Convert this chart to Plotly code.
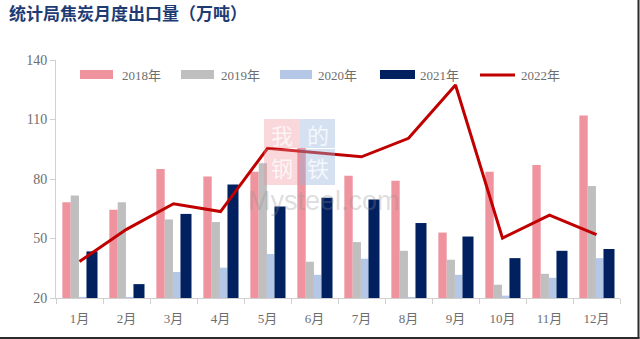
import plotly.graph_objects as go

# Monthly coke exports reported by the statistics bureau (10k tonnes)
months = ["1月", "2月", "3月", "4月", "5月", "6月", "7月", "8月", "9月", "10月", "11月", "12月"]
y2018 = [68.3, 64.5, 85.1, 81.2, 83.6, 95.6, 81.7, 79.1, 53.0, 83.6, 87.1, 112.0]
y2019 = [71.7, 68.3, 59.6, 58.3, 88.0, 38.3, 48.2, 43.8, 39.3, 26.7, 32.2, 76.5]
y2020 = [20.5, 20.3, 33.1, 35.3, 42.2, 31.7, 39.8, 20.3, 31.7, 21.2, 30.2, 40.1]
y2021 = [43.5, 27.0, 62.4, 77.2, 66.1, 70.5, 69.7, 57.8, 51.0, 40.1, 43.8, 44.7]
y2022 = [38.4, 54.6, 67.5, 63.6, 95.5, 93.3, 91.2, 100.5, 127.4, 50.2, 61.8, 51.9]

C18, C19, C20, C21, C22 = "#EF949E", "#BFBFBF", "#B4C7E7", "#002060", "#C00000"

W, H = 640, 339
ML, MR, MT, MB = 56, 20, 60, 41
PW, PH = W - ML - MR, H - MT - MB


def px(x):
    return (x - ML) / PW


def py(y):
    return (H - MB - y) / PH


fig = go.Figure()
bar_specs = [
    ("2018年", y2018, C18, -0.365, 0.178),
    ("2019年", y2019, C19, -0.187, 0.175),
    ("2020年", y2020, C20, -0.012, 0.16),
    ("2021年", y2021, C21, 0.148, 0.235),
]
for name, vals, col, off, wd in bar_specs:
    fig.add_trace(go.Bar(
        x=months, y=[v - 20 for v in vals], base=20, name=name,
        marker=dict(color=col, line=dict(width=0)),
        offset=off, width=wd, showlegend=False,
    ))
fig.add_trace(go.Scatter(
    x=months, y=y2022, name="2022年", mode="lines",
    line=dict(color=C22, width=3), showlegend=False,
))

shapes = []
annotations = []
serif = "Liberation Serif, Noto Sans CJK SC"

# legend drawn by hand so the swatches keep their wide shape
legend_items = [
    ("2018年", C18, 80, 113, 120, "bar"),
    ("2019年", C19, 181, 214, 219, "bar"),
    ("2020年", C20, 280, 312, 316, "bar"),
    ("2021年", C21, 380, 415, 418, "bar"),
    ("2022年", C22, 480, 515, 519, "line"),
]
for name, col, x0, x1, tx, kind in legend_items:
    if kind == "bar":
        shapes.append(dict(type="rect", xref="paper", yref="paper",
                           x0=px(x0), x1=px(x1), y0=py(79), y1=py(70),
                           fillcolor=col, line=dict(width=0)))
    else:
        shapes.append(dict(type="line", xref="paper", yref="paper",
                           x0=px(x0), x1=px(x1), y0=py(75), y1=py(75),
                           line=dict(color=col, width=3)))
    annotations.append(dict(text=name, xref="paper", yref="paper",
                            x=px(tx), y=py(75), xanchor="left", yanchor="middle",
                            showarrow=False,
                            font=dict(family=serif, size=13, color="#6E6E6E")))

# faint site watermark
wm = [("我", 264, 300, 119, 148, "rgba(239,140,150,0.35)"),
      ("的", 300, 335, 119, 148, "rgba(150,180,220,0.4)"),
      ("钢", 264, 300, 149, 185, "rgba(239,140,150,0.35)"),
      ("铁", 300, 335, 149, 185, "rgba(150,180,220,0.4)")]
for ch, x0, x1, y0, y1, col in wm:
    shapes.append(dict(type="rect", xref="paper", yref="paper", layer="above",
                       x0=px(x0), x1=px(x1), y0=py(y1), y1=py(y0),
                       fillcolor=col, line=dict(width=0)))
    annotations.append(dict(text=ch, xref="paper", yref="paper",
                            x=px((x0 + x1) / 2), y=py((y0 + y1) / 2),
                            xanchor="center", yanchor="middle", showarrow=False,
                            font=dict(family="Noto Sans CJK SC", size=22,
                                      color="rgba(255,255,255,0.75)")))
annotations.append(dict(text="Mysteel.com", xref="paper", yref="paper",
                        x=px(324), y=py(201), xanchor="center", yanchor="middle",
                        showarrow=False,
                        font=dict(family="Liberation Sans", size=27,
                                  color="rgba(140,140,140,0.3)")))

# title
annotations.append(dict(text="<b>统计局焦炭月度出口量（万吨）</b>", xref="paper", yref="paper",
                        x=px(7), y=py(12), xanchor="left", yanchor="middle",
                        showarrow=False,
                        font=dict(family="Noto Sans CJK SC", size=17, color="#1F3B73")))

# dark frame on the right and bottom edges
shapes.append(dict(type="line", xref="paper", yref="paper",
                   x0=px(638.5), x1=px(638.5), y0=py(0), y1=py(338.5),
                   line=dict(color="#2b2b2b", width=2)))
shapes.append(dict(type="line", xref="paper", yref="paper",
                   x0=px(0), x1=px(639.5), y0=py(338), y1=py(338),
                   line=dict(color="#2b2b2b", width=2)))

fig.update_layout(
    width=W, height=H,
    margin=dict(l=ML, r=MR, t=MT, b=MB),
    paper_bgcolor="white", plot_bgcolor="white",
    barmode="overlay",
    shapes=shapes, annotations=annotations,
    showlegend=False,
)
fig.update_xaxes(
    type="category", showgrid=False, showline=True, linecolor="#D0D0D0", linewidth=1,
    ticks="outside", tickson="boundaries", ticklen=5, tickcolor="#D0D0D0",
    tickfont=dict(family=serif, size=13, color="#6E6E6E"),
    ticklabelstandoff=8,
    range=[-0.5, 11.5],
)
fig.update_yaxes(
    range=[20, 140], tickvals=[20, 50, 80, 110, 140], showgrid=False,
    showline=True, linecolor="#D0D0D0", linewidth=1,
    ticks="outside", ticklen=5, tickcolor="#D0D0D0",
    tickfont=dict(family=serif, size=14, color="#6E6E6E"),
    zeroline=False,
)

fig.write_html("out.html")
